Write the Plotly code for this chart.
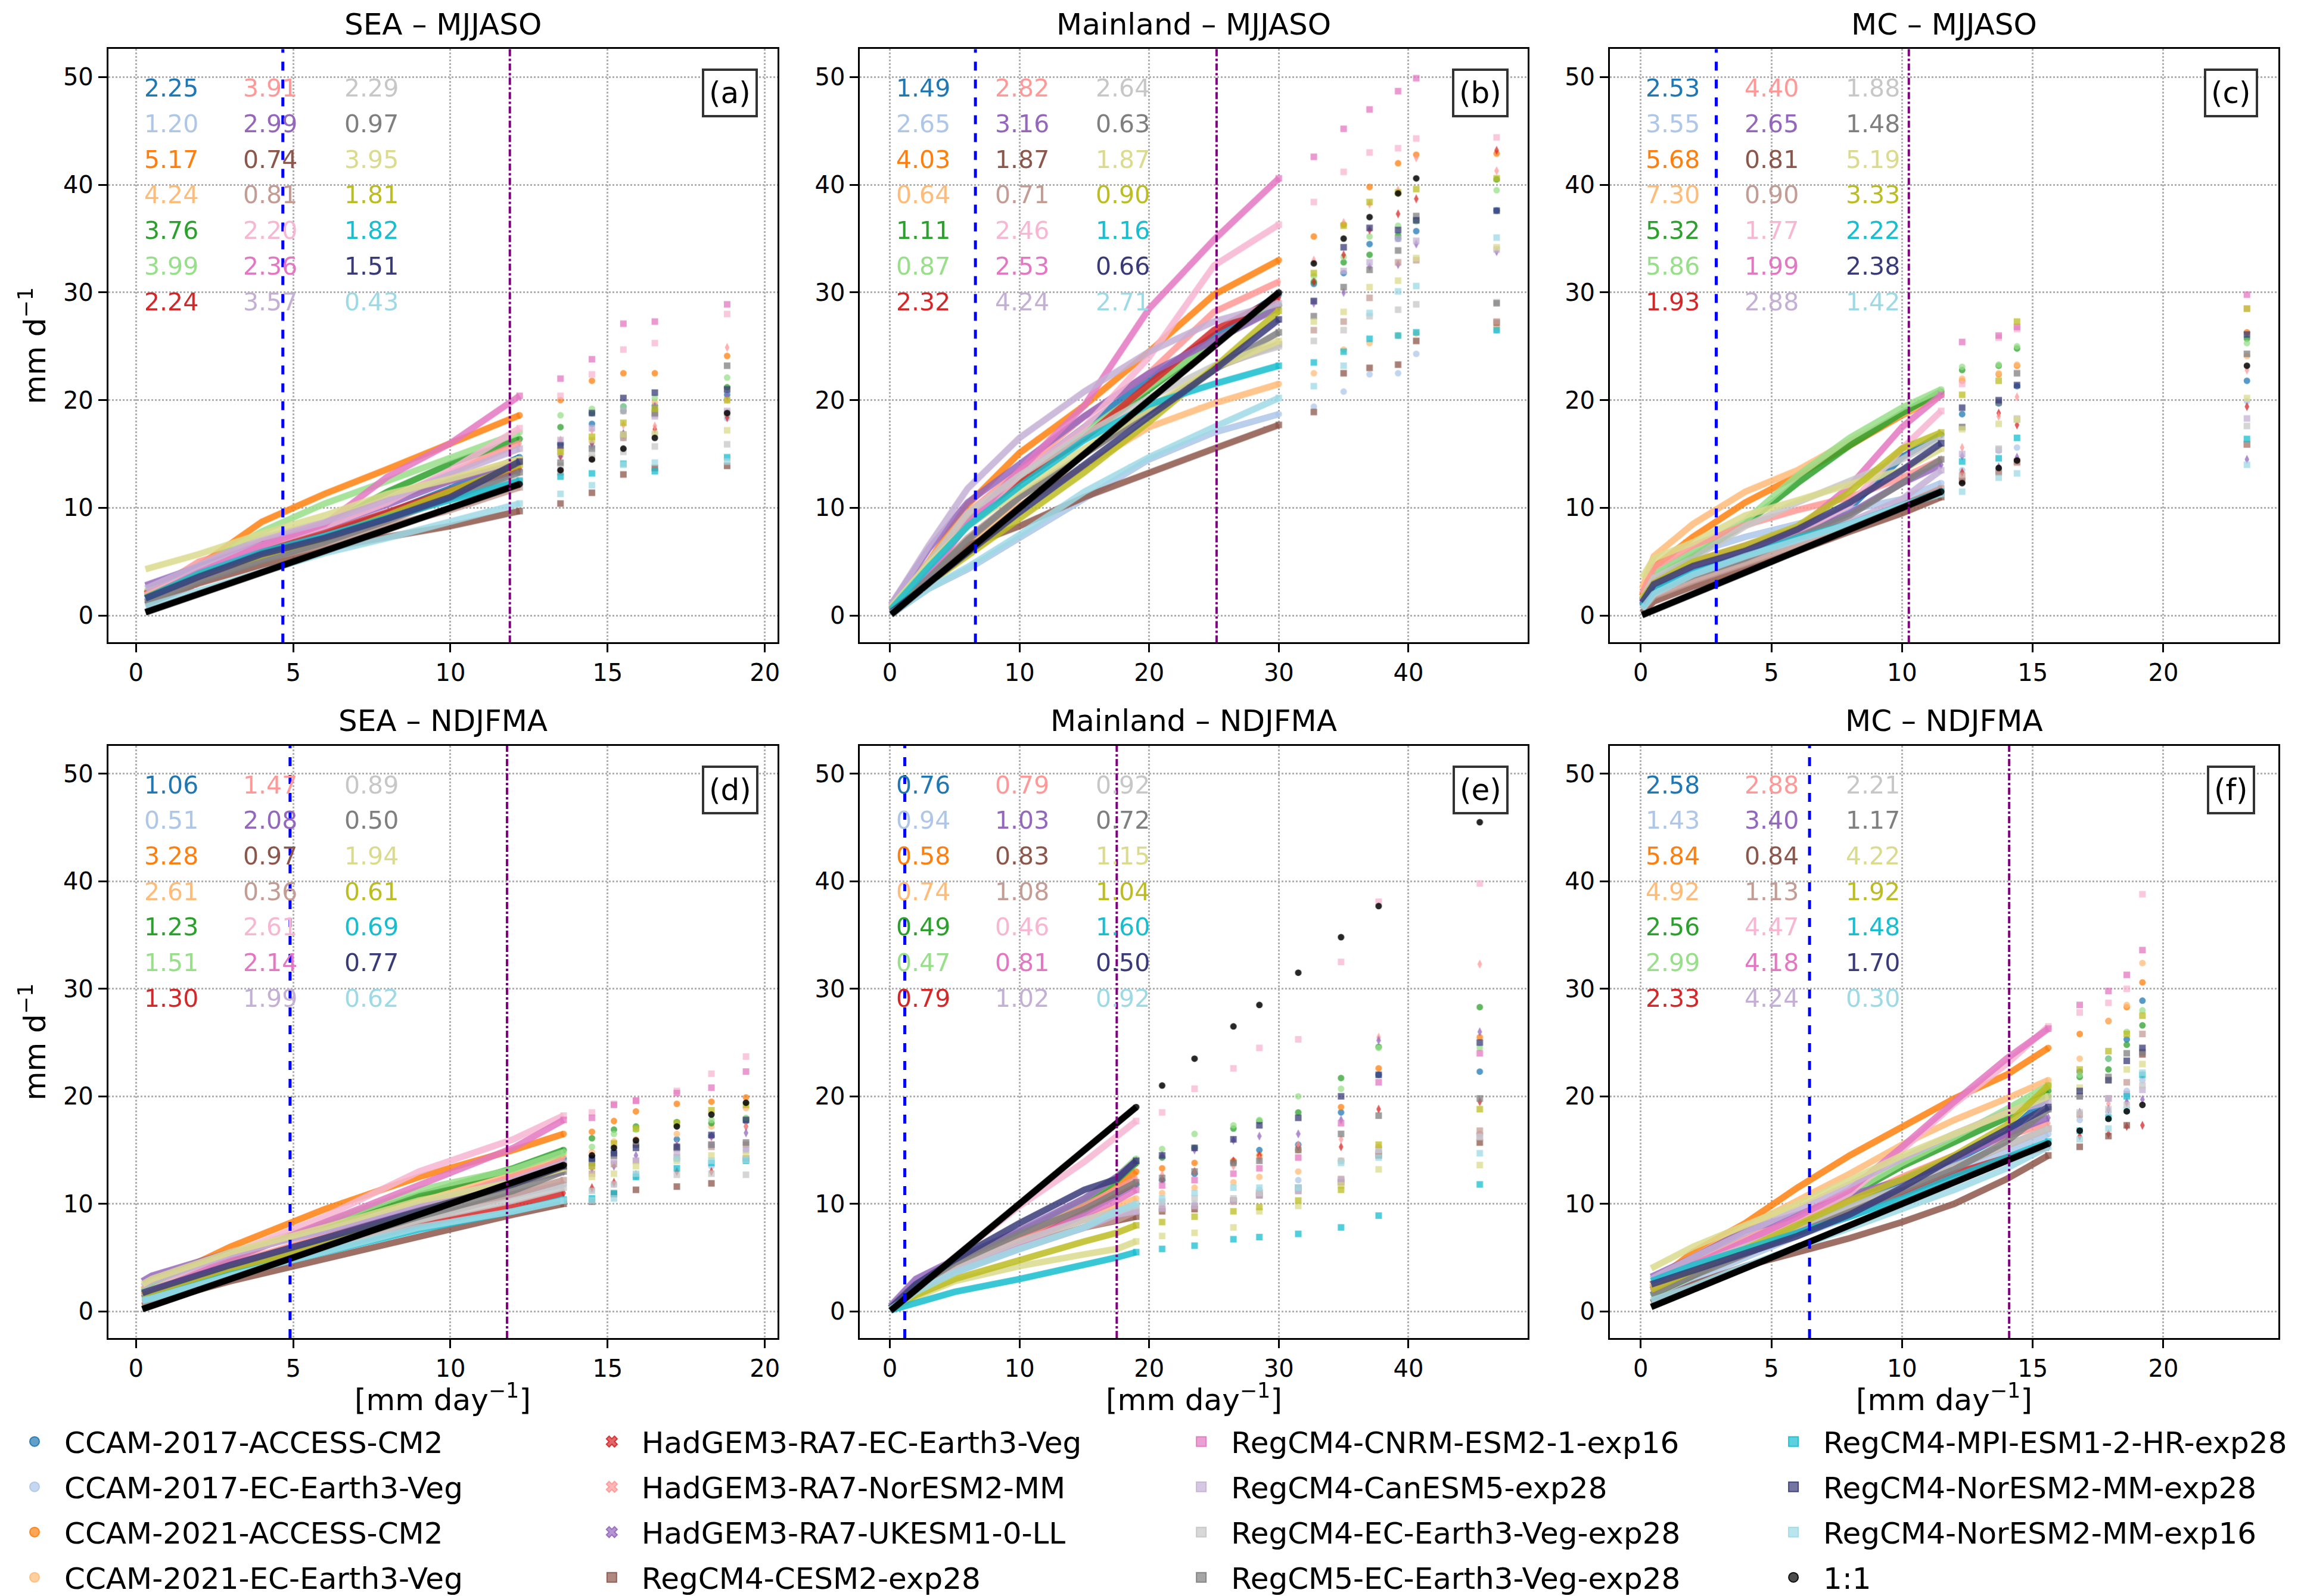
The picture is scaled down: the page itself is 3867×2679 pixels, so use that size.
import plotly.graph_objects as go
from plotly.subplots import make_subplots

# ── models (order of the score columns, tab20 colours) ──────────────
models = [
    'CCAM-2017-ACCESS-CM2', 'CCAM-2017-EC-Earth3-Veg', 'CCAM-2021-ACCESS-CM2',
    'CCAM-2021-EC-Earth3-Veg', None, None,
    'HadGEM3-RA7-EC-Earth3-Veg', 'HadGEM3-RA7-NorESM2-MM', 'HadGEM3-RA7-UKESM1-0-LL',
    'RegCM4-CESM2-exp28', None, None,
    'RegCM4-CNRM-ESM2-1-exp16', 'RegCM4-CanESM5-exp28', 'RegCM4-EC-Earth3-Veg-exp28',
    'RegCM5-EC-Earth3-Veg-exp28', None, None,
    'RegCM4-MPI-ESM1-2-HR-exp28', 'RegCM4-NorESM2-MM-exp28', 'RegCM4-NorESM2-MM-exp16',
]
colors = [
    '#1f77b4', '#aec7e8', '#ff7f0e', '#ffbb78', '#2ca02c', '#98df8a', '#d62728',
    '#ff9896', '#9467bd', '#8c564b', '#c49c94', '#f7b6d2', '#e377c2', '#c5b0d5',
    '#c7c7c7', '#7f7f7f', '#dbdb8d', '#bcbd22', '#17becf', '#393b79', '#9edae5',
]
symbols = ['circle'] * 6 + ['x'] * 3 + ['square'] * 12
plot_symbols = ['circle'] * 6 + ['diamond-tall'] * 3 + ['square'] * 12

# legend columns as shown under the figure (-1 = the 1:1 reference)
legend_cols = [[0, 1, 2, 3], [6, 7, 8, 9], [12, 13, 14, 15], [18, 19, 20, -1]]

titles = ['SEA – MJJASO', 'Mainland – MJJASO', 'MC – MJJASO',
          'SEA – NDJFMA', 'Mainland – NDJFMA', 'MC – NDJFMA']
labels = ['(a)', '(b)', '(c)', '(d)', '(e)', '(f)']
p_low = [4.67, 6.6, 2.89, 4.9, 1.15, 6.46]      # blue dashed
p_high = [11.89, 25.2, 10.26, 11.8, 17.5, 14.1]  # purple dash-dot

# ── (a) SEA MJJASO ─────────────────────────────────────────────────
x_a = [0.3, 2, 4, 6, 8, 10, 12.2, 13.5, 14.5, 15.5, 16.5, 18.8]
dense_a = 7
y_a = [
    [1.8, 4.0, 5.9, 7.5, 9.5, 11.8, 14.7, 15.9, 17.8, 19.4, 19.5, 20.5],
    [1.3, 3.6, 5.5, 7.1, 9.0, 11.0, 13.5, 14.8, 15.7, 16.5, 16.9, 18.3],
    [2.0, 4.6, 8.7, 11.3, 13.6, 16.0, 18.6, 20.0, 21.8, 22.5, 22.5, 24.1],
    [2.1, 4.6, 6.9, 8.6, 10.8, 12.6, 14.5, 15.5, 16.2, 16.8, 19.8, 20.0],
    [2.0, 4.2, 6.5, 8.3, 11.5, 14.1, 16.4, 17.5, 18.8, 19.0, 19.2, 21.2],
    [2.2, 4.6, 7.8, 10.4, 12.5, 14.7, 17.0, 18.6, 19.2, 19.4, 20.2, 22.1],
    [2.0, 4.2, 6.0, 7.7, 9.6, 11.6, 13.6, 14.8, 16.0, 16.8, 17.3, 18.4],
    [1.9, 5.0, 6.8, 8.6, 10.8, 13.2, 16.0, 16.3, 17.2, 17.7, 17.6, 24.9],
    [2.8, 4.5, 6.6, 8.3, 10.3, 12.5, 14.1, 15.0, 16.1, 16.9, 19.4, 20.4],
    [1.0, 3.0, 4.7, 6.2, 7.3, 8.3, 9.7, 10.4, 11.4, 13.1, 13.7, 13.9],
    [1.3, 3.4, 5.2, 6.6, 8.3, 9.8, 11.9, 13.3, 14.6, 16.5, 18.7, 18.8],
    [1.8, 4.2, 6.5, 8.3, 10.5, 13.5, 17.4, 20.4, 22.4, 24.7, 25.3, 28.0],
    [1.6, 4.0, 6.5, 8.5, 12.9, 16.0, 20.4, 22.0, 23.8, 27.1, 27.3, 28.9],
    [2.5, 4.6, 7.2, 8.7, 10.8, 13.1, 15.5, 16.3, 17.4, 19.0, 18.5, 19.0],
    [1.5, 3.7, 5.6, 7.3, 9.1, 10.9, 12.6, 13.9, 14.9, 15.2, 15.7, 15.9],
    [1.2, 3.2, 5.1, 6.8, 8.8, 10.9, 13.3, 14.2, 15.5, 16.8, 18.8, 23.2],
    [4.3, 5.7, 7.6, 9.3, 11.3, 12.7, 14.5, 15.2, 16.3, 16.8, 16.9, 17.2],
    [1.7, 3.8, 5.6, 7.2, 9.3, 11.5, 14.0, 15.2, 16.6, 17.9, 19.2, 20.0],
    [1.6, 3.9, 5.9, 7.4, 9.1, 10.7, 12.5, 12.9, 13.2, 14.1, 13.4, 14.7],
    [1.6, 3.6, 5.7, 7.2, 9.0, 11.0, 14.3, 15.8, 18.8, 20.2, 20.7, 21.0],
    [0.8, 2.3, 4.0, 5.8, 7.2, 8.7, 10.4, 11.3, 12.1, 14.0, 14.2, 14.3],
]
scores_a = [2.25, 1.20, 5.17, 4.24, 3.76, 3.99, 2.24, 3.91, 2.99, 0.74, 0.81,
            2.20, 2.36, 3.57, 2.29, 0.97, 3.95, 1.81, 1.82, 1.51, 0.43]

# ── (b) Mainland MJJASO ────────────────────────────────────────────
x_b = [0.1, 3, 6, 10, 15, 20, 25, 30, 32.7, 35, 37, 39.2, 40.6, 46.8]
dense_b = 8
y_b = [
    [0.6, 4.5, 8.8, 13.0, 17.5, 22.0, 26.0, 29.8, 30.8, 31.8, 34.5, 35.0, 35.7, 37.6],
    [0.1, 2.5, 4.3, 7.2, 11.0, 14.5, 17.0, 18.7, 19.4, 20.8, 22.4, 22.5, 24.3, 26.5],
    [0.8, 5.0, 10.3, 15.1, 19.5, 24.5, 29.8, 33.0, 35.2, 36.3, 39.8, 42.0, 42.8, 42.9],
    [0.5, 3.5, 6.8, 10.2, 13.8, 17.5, 19.7, 21.5, 22.5, 24.7, 25.3, 26.0, 26.2, 26.8],
    [0.5, 4.2, 8.5, 12.5, 16.5, 21.0, 25.5, 28.8, 31.0, 32.8, 33.5, 35.3, 36.7, 40.5],
    [0.5, 4.3, 8.8, 12.8, 17.0, 21.2, 25.5, 28.8, 31.5, 33.3, 35.2, 36.2, 36.6, 39.5],
    [0.6, 4.0, 8.5, 12.5, 16.5, 21.5, 26.5, 29.5, 31.0, 33.5, 35.8, 37.3, 38.7, 43.2],
    [0.8, 4.5, 9.5, 13.5, 18.5, 22.5, 28.2, 31.0, 33.0, 36.5, 38.2, 39.5, 42.5, 41.3],
    [1.0, 6.2, 10.5, 14.0, 18.5, 22.5, 25.5, 28.6, 29.0, 30.0, 32.4, 32.6, 34.5, 33.8],
    [0.5, 4.0, 6.5, 8.3, 11.0, 13.3, 15.5, 17.7, 18.9, 22.5, 23.0, 23.3, 25.5, 27.2],
    [0.4, 3.6, 7.2, 11.0, 15.0, 19.0, 23.0, 25.2, 26.5, 27.3, 29.5, 32.8, 33.0, 27.3],
    [0.7, 4.0, 8.5, 13.0, 17.5, 24.0, 32.5, 36.3, 38.4, 41.2, 43.0, 43.4, 44.3, 44.4],
    [0.5, 3.8, 8.5, 13.5, 19.5, 28.5, 34.9, 40.6, 42.6, 45.2, 47.0, 48.7, 49.9, 50.0],
    [1.0, 6.5, 11.8, 16.5, 20.8, 24.5, 27.3, 29.0, 29.2, 32.0, 32.8, 35.0, 34.8, 34.0],
    [0.6, 5.0, 9.5, 13.0, 16.8, 20.2, 23.2, 25.0, 25.5, 26.5, 27.8, 28.4, 28.9, 29.1],
    [0.4, 3.5, 7.0, 11.0, 15.0, 19.0, 22.8, 26.3, 27.8, 30.5, 32.1, 33.9, 37.1, 29.0],
    [0.8, 4.8, 8.3, 11.6, 15.5, 19.3, 23.0, 25.5, 27.3, 28.2, 30.5, 31.1, 33.2, 34.2],
    [0.5, 3.0, 5.6, 9.0, 13.3, 18.0, 23.0, 28.3, 31.8, 36.2, 38.4, 39.3, 39.6, 40.6],
    [0.6, 4.5, 8.3, 12.0, 16.3, 19.6, 21.5, 23.2, 23.5, 24.5, 25.7, 26.0, 26.3, 26.5],
    [0.3, 3.0, 5.8, 9.6, 14.0, 18.5, 22.8, 27.5, 29.2, 34.2, 36.0, 35.8, 36.7, 37.6],
    [0.2, 2.5, 4.5, 7.5, 11.5, 14.7, 17.5, 20.2, 21.3, 23.2, 28.1, 30.1, 30.6, 35.1],
]
scores_b = [1.49, 2.65, 4.03, 0.64, 1.11, 0.87, 2.32, 2.82, 3.16, 1.87, 0.71,
            2.46, 2.53, 4.24, 2.64, 0.63, 1.87, 0.90, 1.16, 0.66, 2.71]

# ── (c) MC MJJASO ──────────────────────────────────────────────────
x_c = [0.05, 0.5, 2, 4, 6, 8, 10, 11.5, 12.3, 13.7, 14.4, 23.2]
dense_c = 8
y_c = [
    [1.0, 2.8, 4.6, 6.0, 7.8, 10.0, 14.7, 16.8, 18.7, 19.7, 21.3, 21.8],
    [1.5, 3.8, 5.8, 7.3, 8.5, 9.8, 10.8, 12.3, 13.5, 15.3, 15.6, 19.9],
    [1.8, 4.5, 7.3, 10.5, 13.0, 15.8, 18.6, 20.5, 21.8, 22.4, 23.2, 26.3],
    [2.5, 5.5, 8.5, 11.5, 13.5, 16.2, 18.7, 20.5, 22.0, 22.5, 23.3, 24.1],
    [1.4, 3.5, 5.5, 8.5, 12.3, 15.8, 18.8, 20.8, 22.8, 23.2, 24.8, 25.7],
    [1.5, 3.8, 6.0, 8.8, 13.0, 16.5, 19.3, 21.0, 23.1, 23.3, 25.0, 25.3],
    [0.9, 2.3, 3.9, 5.5, 7.0, 8.5, 10.2, 11.6, 13.3, 18.8, 17.7, 19.4],
    [2.0, 4.5, 6.5, 8.4, 9.8, 11.0, 12.8, 14.5, 15.6, 18.5, 20.3, 22.8],
    [1.0, 2.5, 4.3, 5.8, 7.5, 9.5, 12.3, 14.0, 14.8, 13.8, 14.7, 14.5],
    [0.3, 1.3, 2.7, 4.3, 6.0, 7.8, 9.5, 11.0, 12.5, 13.3, 14.3, 15.9],
    [0.6, 1.8, 3.2, 4.8, 6.5, 8.3, 10.2, 11.8, 13.0, 13.4, 14.2, 15.9],
    [1.2, 3.0, 4.7, 6.2, 7.7, 10.3, 15.5, 19.0, 21.5, 25.8, 26.6, 28.5],
    [1.3, 3.2, 5.0, 6.5, 8.0, 12.0, 17.5, 20.5, 25.4, 26.0, 26.8, 29.8],
    [0.8, 2.3, 3.9, 5.5, 7.0, 8.7, 10.8, 13.5, 15.0, 15.4, 18.2, 18.3],
    [1.5, 3.5, 5.3, 8.3, 10.5, 12.5, 14.5, 16.5, 17.5, 15.5, 18.3, 17.6],
    [0.8, 2.2, 3.7, 5.3, 7.3, 9.3, 12.3, 14.5, 17.5, 19.8, 22.5, 24.3],
    [3.5, 5.3, 6.8, 9.3, 10.7, 12.2, 13.5, 15.5, 17.3, 17.8, 18.2, 20.2],
    [1.5, 3.0, 5.0, 6.5, 8.3, 11.5, 15.5, 17.0, 20.5, 21.8, 27.3, 28.5],
    [0.9, 2.4, 4.0, 5.6, 7.2, 8.5, 10.3, 11.5, 14.3, 14.6, 16.5, 16.4],
    [1.2, 2.9, 4.6, 6.0, 8.0, 10.5, 13.5, 16.0, 19.3, 20.0, 21.4, 26.1],
    [0.6, 2.0, 3.8, 5.5, 7.0, 8.5, 10.2, 11.3, 11.5, 12.8, 13.2, 14.0],
]
scores_c = [2.53, 3.55, 5.68, 7.30, 5.32, 5.86, 1.93, 4.40, 2.65, 0.81, 0.90,
            1.77, 1.99, 2.88, 1.88, 1.48, 5.19, 3.33, 2.22, 2.38, 1.42]

# ── (d) SEA NDJFMA ─────────────────────────────────────────────────
x_d = [0.2, 0.5, 3, 6, 9, 12, 13.6, 14.5, 15.2, 15.9, 17.2, 18.3, 19.4]
dense_d = 7
y_d = [
    [1.6, 2.0, 4.3, 6.8, 9.5, 12.0, 14.2, 14.2, 14.8, 15.5, 16.0, 16.3, 17.7],
    [1.2, 1.4, 3.6, 6.0, 8.6, 10.8, 11.8, 11.3, 11.8, 12.5, 14.2, 13.5, 15.0],
    [2.0, 2.5, 6.0, 9.5, 12.5, 15.0, 16.5, 16.7, 17.7, 18.6, 19.3, 19.5, 19.9],
    [2.0, 2.4, 5.3, 7.8, 10.5, 12.8, 14.5, 14.8, 15.8, 16.0, 16.5, 17.2, 18.9],
    [1.8, 2.2, 5.0, 8.0, 10.8, 13.3, 15.0, 16.1, 16.9, 17.2, 17.6, 17.5, 17.9],
    [1.8, 2.3, 5.2, 8.3, 11.3, 13.2, 14.8, 15.3, 16.5, 16.9, 17.3, 17.8, 18.0],
    [1.2, 1.5, 3.5, 5.8, 8.0, 9.8, 11.0, 11.5, 12.0, 12.7, 13.0, 13.0, 17.2],
    [1.5, 1.9, 4.4, 7.0, 9.8, 12.5, 14.0, 14.5, 15.3, 15.5, 15.5, 16.2, 17.2],
    [2.8, 3.3, 5.5, 7.5, 9.8, 11.8, 13.0, 13.3, 13.5, 14.5, 15.4, 16.3, 16.6],
    [0.5, 0.8, 2.8, 4.9, 7.0, 9.0, 10.0, 10.2, 10.9, 11.3, 11.6, 11.9, 14.2],
    [0.8, 1.0, 3.2, 5.7, 8.4, 10.8, 12.2, 12.8, 13.7, 14.0, 14.3, 15.3, 15.5],
    [1.5, 2.0, 5.3, 8.8, 13.0, 16.0, 18.2, 18.5, 19.3, 19.6, 20.5, 22.1, 23.7],
    [1.4, 1.8, 4.8, 8.3, 11.8, 15.2, 17.8, 18.0, 19.2, 19.6, 20.3, 20.8, 22.3],
    [2.3, 2.8, 5.3, 7.5, 10.0, 12.2, 13.8, 13.5, 14.0, 14.0, 14.8, 15.5, 15.0],
    [1.3, 1.5, 3.8, 6.0, 8.5, 10.3, 11.5, 11.2, 11.8, 12.7, 12.7, 12.8, 12.7],
    [1.2, 1.5, 3.8, 6.2, 8.8, 11.2, 13.0, 13.8, 14.5, 15.5, 15.2, 15.5, 15.7],
    [2.5, 3.0, 5.5, 7.8, 10.3, 12.0, 13.3, 12.5, 12.8, 13.5, 14.0, 14.5, 14.5],
    [1.5, 1.7, 3.9, 6.3, 9.3, 11.8, 13.5, 13.5, 15.6, 17.0, 17.5, 18.7, 19.2],
    [1.0, 1.2, 3.4, 5.5, 7.6, 9.3, 10.4, 10.5, 11.0, 12.5, 13.3, 13.8, 14.0],
    [1.7, 2.0, 4.3, 6.8, 9.3, 11.8, 13.5, 14.2, 14.7, 15.2, 15.3, 16.4, 17.8],
    [1.0, 1.2, 3.3, 5.6, 7.8, 9.3, 10.3, 10.3, 10.5, 12.8, 14.2, 14.0, 14.1],
]
scores_d = [1.06, 0.51, 3.28, 2.61, 1.23, 1.51, 1.30, 1.47, 2.08, 0.97, 0.36,
            2.61, 2.14, 1.99, 0.89, 0.50, 1.94, 0.61, 0.69, 0.77, 0.62]

# ── (e) Mainland NDJFMA ────────────────────────────────────────────
x_e = [0.05, 2, 5, 10, 15, 17.5, 19, 21, 23.5, 26.5, 28.5, 31.5, 34.8, 37.7, 45.5]
dense_e = 7
y_e = [
    [0.3, 2.2, 4.2, 6.5, 9.2, 10.8, 11.8, 12.2, 12.8, 13.8, 15.0, 15.5, 18.5, 22.0, 22.3],
    [0.2, 2.0, 3.8, 5.8, 7.8, 9.5, 9.7, 10.0, 10.0, 10.3, 11.3, 12.2, 14.0, 14.8, 16.5],
    [0.3, 2.3, 4.3, 6.8, 9.8, 11.5, 13.0, 13.3, 13.8, 14.0, 14.5, 15.0, 19.0, 22.6, 25.5],
    [0.3, 2.2, 4.0, 6.5, 8.5, 9.8, 10.5, 11.0, 11.5, 12.0, 12.5, 13.0, 14.0, 15.3, 16.5],
    [0.3, 2.5, 4.5, 7.3, 10.2, 12.2, 13.8, 14.3, 15.2, 17.0, 17.7, 18.5, 21.7, 24.6, 28.3],
    [0.3, 2.5, 4.5, 7.2, 10.5, 12.5, 14.2, 15.1, 16.5, 17.3, 17.8, 20.0, 20.7, 24.5, 24.5],
    [0.3, 2.2, 4.2, 6.6, 9.5, 11.0, 12.0, 12.3, 13.0, 14.0, 14.5, 15.3, 15.3, 18.8, 19.5],
    [0.3, 2.2, 4.2, 6.8, 9.8, 11.3, 12.3, 12.7, 13.0, 13.5, 14.2, 15.5, 16.0, 25.5, 32.3],
    [0.5, 3.0, 4.8, 7.5, 10.5, 12.5, 14.0, 14.5, 15.0, 15.9, 16.3, 16.5, 17.8, 25.2, 26.0],
    [0.3, 2.0, 3.8, 6.0, 7.8, 8.5, 8.8, 9.3, 9.5, 10.3, 10.8, 11.5, 12.0, 14.5, 15.7],
    [0.3, 2.0, 3.8, 6.0, 7.8, 8.5, 9.3, 9.5, 9.8, 10.2, 11.0, 11.2, 12.3, 14.7, 16.8],
    [0.3, 2.2, 5.0, 9.8, 13.9, 16.3, 17.7, 18.5, 20.7, 22.6, 24.5, 25.3, 32.5, 38.1, 39.8],
    [0.3, 2.0, 3.8, 6.2, 9.0, 10.3, 11.3, 11.7, 12.2, 12.8, 13.3, 14.3, 17.5, 21.3, 24.0],
    [0.3, 2.0, 3.6, 5.8, 7.8, 9.0, 9.3, 9.6, 9.8, 10.3, 10.8, 11.2, 12.2, 15.0, 16.3],
    [0.3, 2.2, 4.2, 6.5, 8.5, 9.3, 9.8, 10.2, 10.5, 10.5, 11.0, 11.5, 14.0, 15.0, 16.2],
    [0.3, 2.3, 4.5, 7.2, 9.5, 11.0, 12.0, 12.4, 13.0, 13.8, 14.0, 15.0, 16.5, 18.2, 19.8],
    [0.2, 1.3, 2.8, 4.2, 5.3, 5.8, 6.5, 7.0, 7.3, 7.8, 9.3, 9.8, 11.7, 13.2, 13.6],
    [0.2, 1.5, 3.0, 4.8, 6.5, 7.3, 8.0, 8.3, 8.8, 9.3, 9.7, 10.3, 11.3, 15.5, 18.8],
    [0.1, 0.8, 1.8, 3.0, 4.3, 5.0, 5.5, 5.8, 6.1, 6.7, 6.9, 7.2, 7.8, 8.9, 11.8],
    [0.3, 2.5, 4.8, 8.2, 11.3, 12.3, 14.0, 14.5, 15.2, 16.0, 17.3, 18.0, 20.0, 22.0, 25.0],
    [0.2, 1.8, 3.6, 5.8, 7.8, 9.3, 10.0, 10.5, 11.0, 11.5, 11.5, 11.5, 13.8, 14.3, 14.7],
]
scores_e = [0.76, 0.94, 0.58, 0.74, 0.49, 0.47, 0.79, 0.79, 1.03, 0.83, 1.08,
            0.46, 0.81, 1.02, 0.92, 0.72, 1.15, 1.04, 1.60, 0.50, 0.92]

# ── (f) MC NDJFMA ──────────────────────────────────────────────────
x_f = [0.4, 2, 4, 6, 8, 10, 12, 14, 15.6, 16.8, 17.9, 18.6, 19.2]
dense_f = 9
y_f = [
    [2.2, 4.0, 5.8, 7.8, 9.8, 11.8, 14.0, 16.5, 20.0, 22.3, 23.5, 25.3, 28.9],
    [1.3, 3.0, 5.0, 7.0, 8.8, 10.8, 12.8, 14.8, 16.5, 17.8, 18.5, 20.5, 21.5],
    [2.5, 5.5, 8.2, 11.5, 14.5, 17.2, 19.8, 22.0, 24.5, 25.8, 27.0, 28.3, 30.6],
    [2.2, 5.0, 7.8, 10.3, 12.8, 15.5, 17.8, 19.8, 21.5, 23.5, 27.0, 28.5, 32.4],
    [1.5, 3.3, 5.8, 8.3, 10.8, 13.5, 15.8, 18.0, 20.5, 21.8, 22.5, 24.8, 26.6],
    [1.5, 3.5, 6.0, 8.5, 11.0, 13.8, 16.2, 18.8, 21.0, 22.0, 23.5, 26.0, 28.0],
    [2.0, 4.0, 5.8, 7.5, 9.3, 11.0, 12.8, 14.3, 15.3, 16.3, 16.5, 17.2, 17.3],
    [2.5, 4.5, 6.8, 8.6, 10.3, 12.5, 14.5, 16.3, 17.5, 18.5, 19.3, 19.3, 22.0],
    [3.2, 5.0, 7.5, 9.0, 10.8, 12.2, 14.2, 16.5, 18.0, 18.5, 18.8, 19.5, 19.7],
    [0.8, 2.5, 4.2, 5.5, 6.8, 8.3, 10.0, 12.3, 14.5, 15.3, 16.3, 17.3, 23.9],
    [1.8, 3.5, 5.5, 7.5, 9.5, 11.5, 13.5, 15.5, 17.0, 18.3, 19.8, 21.3, 25.8],
    [2.0, 4.0, 6.2, 8.5, 11.0, 15.0, 19.3, 23.0, 26.5, 27.8, 28.7, 30.0, 38.8],
    [2.0, 4.3, 6.5, 8.8, 11.3, 15.3, 19.5, 23.5, 26.3, 28.5, 29.8, 31.3, 33.6],
    [3.0, 5.0, 7.3, 9.5, 11.8, 14.2, 16.5, 18.5, 19.5, 20.0, 19.8, 20.2, 20.6],
    [2.5, 4.2, 6.0, 7.8, 9.8, 11.5, 13.5, 15.5, 17.0, 18.5, 18.8, 19.2, 21.0],
    [1.5, 3.3, 5.3, 7.3, 9.3, 11.2, 13.2, 15.8, 18.8, 20.0, 21.8, 24.0, 24.1],
    [4.0, 6.0, 8.0, 10.0, 12.2, 14.5, 16.5, 18.5, 20.0, 20.8, 21.5, 22.5, 23.0],
    [2.0, 3.8, 5.8, 8.0, 10.3, 12.3, 14.5, 17.3, 21.0, 22.5, 24.2, 25.8, 27.5],
    [2.8, 4.3, 5.8, 7.3, 8.8, 10.5, 12.5, 14.3, 15.8, 16.8, 18.0, 20.0, 22.0],
    [2.5, 3.8, 5.3, 7.0, 9.0, 11.5, 14.3, 17.0, 19.0, 20.5, 21.5, 23.3, 24.5],
    [1.0, 2.3, 4.2, 6.0, 7.8, 9.5, 11.3, 13.3, 15.3, 16.0, 17.0, 18.7, 22.2],
]
scores_f = [2.58, 1.43, 5.84, 4.92, 2.56, 2.99, 2.33, 2.88, 3.40, 0.84, 1.13,
            4.47, 4.18, 4.24, 2.21, 1.17, 4.22, 1.92, 1.48, 1.70, 0.30]

panels = [
    (x_a, y_a, dense_a, scores_a, [-0.88, 20.4], 5),
    (x_b, y_b, dense_b, scores_b, [-2.3, 49.2], 10),
    (x_c, y_c, dense_c, scores_c, [-1.18, 24.4], 5),
    (x_d, y_d, dense_d, scores_d, [-0.88, 20.4], 5),
    (x_e, y_e, dense_e, scores_e, [-2.3, 49.2], 10),
    (x_f, y_f, dense_f, scores_f, [-1.18, 24.4], 5),
]

x_domains = [[0.045, 0.3357], [0.3716, 0.6617], [0.6974, 0.9878]]
y_domains = [[0.5976, 0.972], [0.1586, 0.5323]]

FONT = 'DejaVu Sans'


def rgba(hex_color, alpha):
    h = hex_color.lstrip('#')
    return 'rgba({},{},{},{})'.format(int(h[0:2], 16), int(h[2:4], 16), int(h[4:6], 16), alpha)


fig = make_subplots(rows=2, cols=3)

for i, (xs, ys, nd, scores, xr, dt) in enumerate(panels):
    row, col = i // 3 + 1, i % 3 + 1
    for m in range(len(colors)):
        fig.add_trace(go.Scatter(
            x=xs[:nd], y=ys[m][:nd], mode='lines',
            line=dict(color=colors[m], width=11), opacity=0.85,
            name=models[m] or '', showlegend=False, hoverinfo='x+y',
        ), row=row, col=col)
        fig.add_trace(go.Scatter(
            x=xs[nd - 1:], y=ys[m][nd - 1:], mode='markers',
            marker=dict(color=colors[m], size=11, symbol=plot_symbols[m]), opacity=0.75,
            name=models[m] or '', showlegend=False, hoverinfo='x+y',
        ), row=row, col=col)
    # 1:1 reference: observed quantiles against themselves
    fig.add_trace(go.Scatter(
        x=xs[:nd], y=xs[:nd], mode='lines', line=dict(color='black', width=11),
        name='1:1', showlegend=False, hoverinfo='x+y',
    ), row=row, col=col)
    fig.add_trace(go.Scatter(
        x=xs[nd - 1:], y=xs[nd - 1:], mode='markers',
        marker=dict(color='black', size=11), opacity=0.85,
        name='1:1', showlegend=False, hoverinfo='x+y',
    ), row=row, col=col)

    fig.add_vline(x=p_low[i], line=dict(color='blue', dash='dash', width=5), row=row, col=col)
    fig.add_vline(x=p_high[i], line=dict(color='purple', dash='dashdot', width=4), row=row, col=col)

    ax = '' if i == 0 else str(i + 1)
    fig.update_layout(**{
        'xaxis' + ax: dict(
            domain=x_domains[col - 1], range=xr, dtick=dt, tick0=0,
            ticks='outside', ticklen=14, tickwidth=3, tickcolor='black',
            tickfont=dict(size=40), showline=True, mirror=True,
            linecolor='black', linewidth=3, showgrid=True, gridcolor='#b0b0b0',
            griddash='dot', gridwidth=3, zeroline=False,
        ),
        'yaxis' + ax: dict(
            domain=y_domains[row - 1], range=[-2.5, 52.6], dtick=10, tick0=0,
            ticks='outside', ticklen=14, tickwidth=3, tickcolor='black',
            tickfont=dict(size=40), showline=True, mirror=True,
            linecolor='black', linewidth=3, showgrid=True, gridcolor='#b0b0b0',
            griddash='dot', gridwidth=3, zeroline=False,
        ),
    })

    xref, yref = 'x' + ax + ' domain', 'y' + ax + ' domain'
    for k, v in enumerate(scores):
        fig.add_annotation(
            text=f'{v:.2f}', x=[0.052, 0.2, 0.351][k // 7], y=0.934 - 0.06 * (k % 7),
            xref=xref, yref=yref, xanchor='left', yanchor='middle', showarrow=False,
            font=dict(size=41, color=colors[k], family=FONT),
        )
    fig.add_annotation(
        text=labels[i], x=0.929, y=0.926, xref=xref, yref=yref, showarrow=False,
        xanchor='center', yanchor='middle', font=dict(size=50, family=FONT),
        bordercolor='#333333', borderwidth=4, borderpad=8, bgcolor='white',
    )
    xd = x_domains[col - 1]
    fig.add_annotation(
        text=titles[i], x=(xd[0] + xd[1]) / 2, y=[0.9877, 0.548][row - 1],
        xref='paper', yref='paper', showarrow=False, xanchor='center',
        yanchor='middle', font=dict(size=50, family=FONT),
    )
    if row == 2:
        fig.add_annotation(
            text='[mm day<sup>−1</sup>]', x=(xd[0] + xd[1]) / 2, y=0.121,
            xref='paper', yref='paper', showarrow=False, xanchor='center',
            yanchor='middle', font=dict(size=50, family=FONT),
        )
    if col == 1:
        yd = y_domains[row - 1]
        fig.add_annotation(
            text='mm d<sup>−1</sup>', x=0.0122, y=(yd[0] + yd[1]) / 2,
            xref='paper', yref='paper', showarrow=False, textangle=-90,
            xanchor='center', yanchor='middle', font=dict(size=50, family=FONT),
        )

# ── legend (four columns) ──────────────────────────────────────────
legend_x = [0.0, 0.2508, 0.5069, 0.7642]
for c, members in enumerate(legend_cols):
    lg = 'legend' if c == 0 else f'legend{c + 1}'
    for m in members:
        if m < 0:
            name, color, sym = '1:1', '#000000', 'circle'
        else:
            name, color, sym = models[m], colors[m], symbols[m]
        fig.add_trace(go.Scatter(
            x=[None], y=[None], mode='markers', name=name, legend=lg,
            legendgroup=name,
            marker=dict(color=rgba(color, 0.7), size=20, symbol=sym,
                        line=dict(color=rgba(color, 0.9), width=2)),
            showlegend=True,
        ))
    fig.update_layout(**{lg: dict(
        x=legend_x[c], y=0.108, xanchor='left', yanchor='top',
        font=dict(size=50, family=FONT), bgcolor='rgba(0,0,0,0)',
        tracegroupgap=8, itemsizing='trace', itemwidth=90,
    )})

fig.update_layout(
    width=3867, height=2679,
    margin=dict(l=0, r=0, t=0, b=0),
    paper_bgcolor='white', plot_bgcolor='white',
    font=dict(family=FONT, color='black'),
)

fig.write_html('out.html')
